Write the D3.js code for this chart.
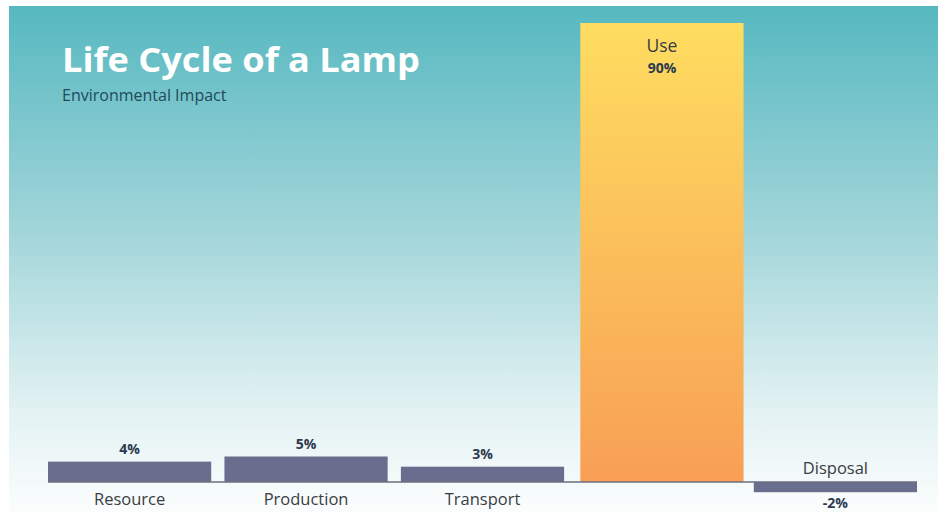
<!DOCTYPE html>
<html>
<head>
<meta charset="utf-8">
<script src="https://cdn.jsdelivr.net/npm/d3@7"></script>
<style>
  html, body { margin: 0; padding: 0; background: #ffffff; }
  svg { display: block; }
</style>
</head>
<body>
<svg id="chart" width="938" height="512"></svg>
<script>
const categories = ["Resource", "Production", "Transport", "Use", "Disposal"];
const values = [4, 5, 3, 90, -2];
const valueLabels = ["4%", "5%", "3%", "90%", "-2%"];
const title = "Life Cycle of a Lamp";
const subtitle = "Environmental Impact";

const W = 938, H = 512;
const svg = d3.select("#chart");
const defs = svg.append("defs");

const bg = defs.append("linearGradient").attr("id", "bg")
  .attr("x1", 0).attr("y1", 0).attr("x2", 0).attr("y2", 1);
bg.append("stop").attr("offset", "0%").attr("stop-color", "#56b8c0");
bg.append("stop").attr("offset", "45%").attr("stop-color", "#a3d6da");
bg.append("stop").attr("offset", "80%").attr("stop-color", "#e3f2f3");
bg.append("stop").attr("offset", "100%").attr("stop-color", "#fbfdfd");

const useGrad = defs.append("linearGradient").attr("id", "useGrad")
  .attr("x1", 0).attr("y1", 0).attr("x2", 0).attr("y2", 1);
useGrad.append("stop").attr("offset", "0%").attr("stop-color", "#fedd60");
useGrad.append("stop").attr("offset", "100%").attr("stop-color", "#f89f55");

svg.append("rect").attr("x", 9).attr("y", 6).attr("width", W - 9).attr("height", H - 6)
  .attr("fill", "url(#bg)");

const x = d3.scaleBand().domain(categories).range([48, 917]).paddingInner(0.075).paddingOuter(0);
const y = d3.scaleLinear().domain([0, 90]).range([482, 23]);
const maxV = d3.max(values);
const data = categories.map((c, i) => ({ c, v: values[i], label: valueLabels[i] }));

const font = "'Open Sans', 'Noto Sans', sans-serif";

// bars
svg.append("g").selectAll("rect").data(data).join("rect")
  .attr("x", d => x(d.c) + (d.v === maxV ? 3 : 0))
  .attr("y", d => y(Math.max(0, d.v)))
  .attr("width", x.bandwidth())
  .attr("height", d => Math.abs(y(d.v) - y(0)))
  .attr("fill", d => d.v === maxV ? "url(#useGrad)" : "#6a6e8e");

// baseline
svg.append("line").attr("x1", 48).attr("x2", 917).attr("y1", y(0)).attr("y2", y(0))
  .attr("stroke", "#6d6f80").attr("stroke-width", 1.5);

// category labels
svg.append("g").selectAll("text").data(data).join("text")
  .attr("x", d => x(d.c) + x.bandwidth() / 2 + (d.v === maxV ? 3 : 0))
  .attr("y", d => d.v === maxV ? y(d.v) + 29 : (d.v < 0 ? y(0) - 8 : y(0) + 23))
  .attr("text-anchor", "middle")
  .attr("font-family", font).attr("font-size", d => d.v === maxV ? 17.5 : 16.5)
  .attr("fill", "#3a3d44")
  .text(d => d.c);

// value labels
svg.append("g").selectAll("text").data(data).join("text")
  .attr("x", d => x(d.c) + x.bandwidth() / 2 + (d.v === maxV ? 3 : 0))
  .attr("y", d => d.v === maxV ? y(d.v) + 50 : (d.v < 0 ? y(d.v) + 16 : y(d.v) - 8))
  .attr("text-anchor", "middle")
  .attr("font-family", font).attr("font-size", 14).attr("font-weight", 700)
  .attr("fill", "#2c3a4f")
  .text(d => d.label);

// title
svg.append("text").attr("x", 62).attr("y", 72)
  .attr("font-family", font).attr("font-size", 34).attr("font-weight", 700)
  .attr("fill", "#ffffff").attr("textLength", 358).attr("lengthAdjust", "spacingAndGlyphs")
  .text(title);
svg.append("text").attr("x", 62).attr("y", 101)
  .attr("font-family", font).attr("font-size", 16)
  .attr("fill", "#1f4a5a")
  .text(subtitle);
</script>
</body>
</html>
